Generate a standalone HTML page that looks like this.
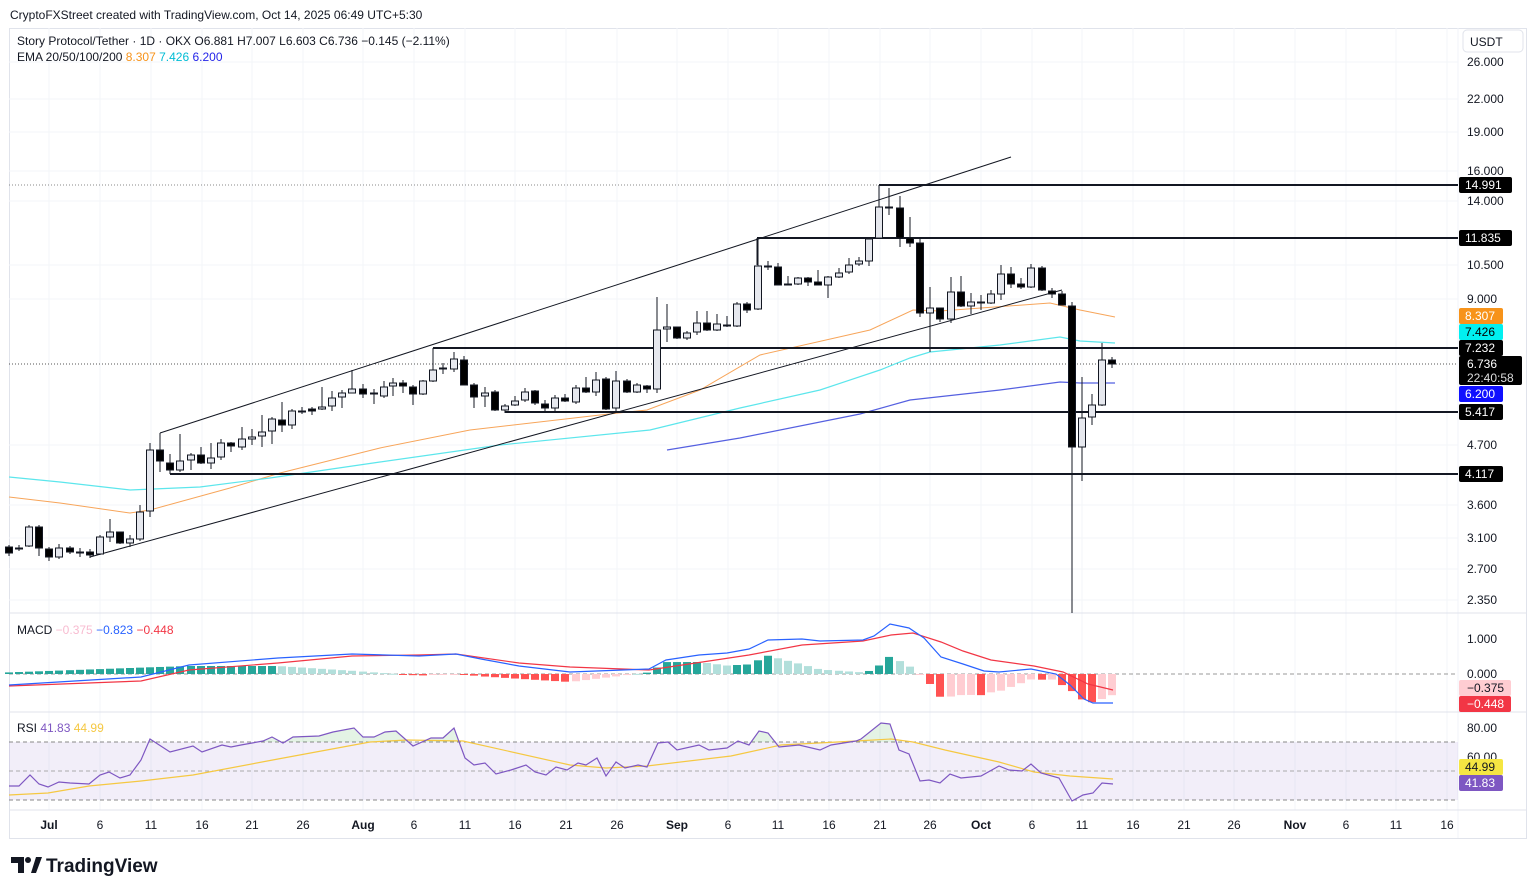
<!DOCTYPE html>
<html><head><meta charset="utf-8">
<style>
html,body{margin:0;padding:0;background:#fff;width:1536px;height:894px;overflow:hidden;font-family:"Liberation Sans",sans-serif}
svg{position:absolute;left:0;top:0}
</style></head><body>
<svg id="s" width="1536" height="894" xmlns="http://www.w3.org/2000/svg" font-family="Liberation Sans, sans-serif"></svg>
<script>
const S=document.getElementById('s');let h='';
function L(x1,y1,x2,y2,c,w,d){h+=`<line x1="${x1}" y1="${y1}" x2="${x2}" y2="${y2}" stroke="${c}" stroke-width="${w||1}" ${d?`stroke-dasharray="${d}"`:''}/>`;}
function T(x,y,t,c,sz,a,fw){h+=`<text x="${x}" y="${y}" fill="${c||'#131722'}" font-size="${sz||12}" ${a?`text-anchor="${a}"`:''} ${fw?`font-weight="${fw}"`:''}>${t}</text>`;}
function P(pts,c,w,f){h+=`<polyline points="${pts.map(p=>p.join(',')).join(' ')}" fill="${f||'none'}" stroke="${c}" stroke-width="${w||1}"/>`;}
// frame
h+=`<rect x="9.5" y="28.5" width="1517" height="810" fill="none" stroke="#e0e3eb"/>`;
L(1458,28,1458,838,'#f0f3fa');
// grid
const py=[62,99,132,171,201,265,299,445,505,538,569,600];
py.forEach(y=>L(9,y,1458,y,'#f3f5f9'));
const tx=[[49,'Jul',1],[100,'6'],[151,'11'],[202,'16'],[252,'21'],[303,'26'],[363,'Aug',1],[414,'6'],[465,'11'],[515,'16'],[566,'21'],[617,'26'],[677,'Sep',1],[728,'6'],[778,'11'],[829,'16'],[880,'21'],[930,'26'],[981,'Oct',1],[1032,'6'],[1082,'11'],[1133,'16'],[1184,'21'],[1234,'26'],[1295,'Nov',1],[1346,'6'],[1396,'11'],[1447,'16']];
tx.forEach(t=>{L(t[0],28,t[0],810,'#f3f5f9');T(t[0],829,t[1],'#131722',12,'middle',t[2]?'bold':null);});
L(9,613,1526,613,'#e0e3eb');L(9,712,1526,712,'#e0e3eb');L(9,810,1526,810,'#e0e3eb');
// header
T(10,19,'CryptoFXStreet created with TradingView.com, Oct 14, 2025 06:49 UTC+5:30','#131722',12);
T(17,45,'Story Protocol/Tether · 1D · OKX <tspan fill="#131722">O</tspan>6.881 H7.007 L6.603 C6.736 −0.145 (−2.11%)','#131722',12);
T(17,61,'EMA 20/50/100/200 <tspan fill="#f7931a">8.307</tspan> <tspan fill="#00bcd4">7.426</tspan> <tspan fill="#2424e8">6.200</tspan>','#131722',12);
// right axis labels
h+=`<rect x="1463" y="30" width="60" height="22" rx="4" fill="#fff" stroke="#e0e3eb"/>`;
T(1470,46,'USDT','#131722',12);
[[62,'26.000'],[99,'22.000'],[132,'19.000'],[171,'16.000'],[201,'14.000'],[265,'10.500'],[299,'9.000'],[445,'4.700'],[505,'3.600'],[538,'3.100'],[569,'2.700'],[600,'2.350']].forEach(a=>T(1467,a[0]+4,a[1],'#131722',12));
// dotted lines
L(9,185,879,185,'#888',1,'1 2');L(9,364,1458,364,'#555',1,'1 2');
// EMA lines
P([[9,497],[60,503],[130,513],[150,510],[230,488],[280,473],[380,448],[470,430],[600,415],[647,410],[700,390],[760,355],[870,330],[913,310],[940,311],[1050,303],[1080,310],[1115,317]],'#f7a55a',1);
P([[9,477],[60,482],[130,490],[200,487],[270,478],[380,462],[500,445],[650,430],[740,408],[820,390],[880,370],[910,358],[930,352],[1000,345],[1060,337],[1080,341],[1115,343]],'#5ce6ec',1.2);
P([[667,450],[740,438],[860,414],[910,400],[1000,390],[1060,382],[1080,383],[1115,383]],'#5560e0',1.2);
// channel
L(160,433,1011,157,'#131722',1);L(160,433,160,455,'#131722',1);
L(90,557,1062,290,'#131722',1);
// horizontal levels
[[879,185,207],[757,238,265],[433,348,370],[505,412,407],[170,474,468]].forEach(a=>{L(a[0],a[1],1458,a[1],'#131722',2);L(a[0],a[1],a[0],a[2],'#131722',1);});
// candles [x,o,c,hi,lo]
const C=[[9,547,553,545,556,1],[19,548,548,545,551],[29,546,527,525,547],[39,527,548,525,556],[49,549,557,547,561],[59,557,548,544,559],[70,548,552,546,554],[80,552,552,548,557],[90,552,555,549,558],[100,554,537,535,555],[110,537,532,519,542],[120,532,543,532,544],[130,543,539,535,547],[140,539,512,505,541],[150,511,450,443,517],[160,450,461,448,472],[170,463,470,454,474],[180,470,461,434,472],[191,460,455,453,470],[201,455,463,447,464],[211,463,458,443,469],[221,457,443,439,460],[231,443,446,442,452],[242,447,439,427,450],[252,439,437,429,445],[262,436,432,415,447],[272,431,419,417,444],[282,420,425,402,432],[292,425,411,409,429],[302,411,411,407,414],[312,409,411,407,415],[322,409,407,387,410],[332,406,398,391,411],[342,397,393,390,408],[352,393,389,370,393],[363,389,394,384,398],[374,393,393,389,404],[384,396,387,381,398],[393,386,383,378,396],[403,383,386,380,393],[413,387,394,385,405],[423,394,381,380,395],[433,381,370,348,382],[443,368,368,363,374],[454,369,359,352,372],[464,360,385,356,385],[474,385,397,383,408],[485,396,393,387,407],[495,392,410,390,411],[505,410,406,404,413],[515,405,401,396,406],[525,400,392,388,402],[535,391,403,390,405],[545,404,408,400,412],[555,408,398,395,412],[565,398,401,394,402],[576,402,388,385,404],[586,388,392,377,393],[596,392,380,372,396],[606,379,409,377,410],[616,408,381,371,413],[627,381,392,379,393],[637,392,385,383,393],[647,386,389,385,393],[657,389,330,297,393],[667,329,327,304,342],[677,327,338,327,339],[687,338,333,331,340],[697,332,323,311,335],[707,323,330,311,331],[717,330,324,314,331],[727,325,325,316,327],[737,326,304,302,327],[747,304,310,302,313],[758,309,266,238,310],[768,266,266,261,270],[778,267,285,263,285],[788,284,284,276,285],[798,284,278,277,285],[808,278,282,277,286],[818,282,285,270,285],[828,285,277,276,298],[839,277,273,268,278],[849,272,265,258,274],[859,264,261,257,266],[869,261,239,238,266],[879,238,207,185,239],[889,207,207,188,215],[900,208,238,196,247],[910,238,243,217,247],[920,243,313,237,317],[930,313,308,287,352],[940,308,319,308,322],[951,319,292,277,323],[961,292,306,276,307],[971,306,302,293,314],[981,302,303,295,310],[991,303,294,290,304],[1001,294,274,265,300],[1011,274,284,267,288],[1021,284,287,278,289],[1031,287,268,264,288],[1042,268,290,266,291],[1052,291,294,288,298],[1062,294,305,291,305],[1072,306,447,302,613],[1082,447,418,377,481],[1092,417,405,394,425],[1102,405,360,343,406],[1112,360,364,357,368]];
C.forEach(c=>{const[x,o,cl,hi,lo]=c;const up=cl<o;const t=Math.min(o,cl),b=Math.max(o,cl);
L(x,hi,x,lo,'#131722',1);
const hh=Math.max(b-t,1);
h+=`<rect x="${x-3.5}" y="${t}" width="7" height="${hh}" fill="${up?'#e6e8ee':'#000'}" stroke="#131722" stroke-width="1"/>`;});
// price labels boxes
function B(y,t,bg,fg,w){h+=`<rect x="1459" y="${y-8}" width="${w||44}" height="16" rx="2" fill="${bg}"/>`;T(1465,y+4,t,fg,12);}
B(185,'14.991','#000','#fff',53);B(238,'11.835','#000','#fff',53);B(316,'8.307','#f7931a','#fff');B(332,'7.426','#00f0f0','#000');B(348,'7.232','#000','#fff');
h+=`<rect x="1459" y="356" width="63" height="29" rx="2" fill="#000"/>`;T(1467,368,'6.736','#fff',12);T(1467,382,'22:40:58','#ddd',12);
B(394,'6.200','#1010ff','#fff');B(412,'5.417','#000','#fff');B(474,'4.117','#000','#fff');
// MACD
L(9,674,1458,674,'#999',1,'4 3');
const blue=[[9,685],[141,677],[189,665],[278,658],[352,654],[419,656],[456,654],[481,659],[519,666],[570,672],[649,669],[666,660],[699,655],[727,653],[749,649],[768,640],[802,639],[820,641],[863,640],[874,636],[890,624],[909,628],[924,638],[941,657],[963,664],[984,671],[999,672],[1031,669],[1056,674],[1070,685],[1084,699],[1093,703],[1113,703]];
const red=[[9,686],[141,681],[189,670],[278,663],[352,656],[419,655],[456,654],[519,663],[570,667],[649,670],[749,655],[802,645],[863,641],[891,635],[913,633],[941,642],[963,651],[991,660],[1034,666],[1063,672],[1088,684],[1113,690]];
function interp(a,x){for(let i=0;i<a.length-1;i++){if(x>=a[i][0]&&x<=a[i+1][0]){const f=(x-a[i][0])/(a[i+1][0]-a[i][0]);return a[i][1]+f*(a[i+1][1]-a[i][1]);}}return a[a.length-1][1];}
let prev=null;
C.forEach(c=>{const x=c[0];const v=-(interp(blue,x)-interp(red,x))*1.6;const grow=prev===null||Math.abs(v)>=Math.abs(prev);
let col=v>=0?(grow?'#26a69a':'#b2dfdb'):(grow?'#ff5252':'#ffcdd2');prev=v;
const y=v>=0?674-v:674;h+=`<rect x="${x-4}" y="${y}" width="8" height="${Math.max(Math.abs(v),1)}" fill="${col}"/>`;});
P(red,'#f23645',1.2);P(blue,'#2962ff',1.2);
T(17,634,'MACD <tspan fill="#f8bbd0">−0.375</tspan> <tspan fill="#2962ff">−0.823</tspan> <tspan fill="#f23645">−0.448</tspan>','#131722',12);
T(1467,643,'1.000','#131722',12);T(1467,678,'0.000','#131722',12);
h+=`<rect x="1459" y="680" width="52" height="16" rx="2" fill="#ffcdd2"/>`;T(1467,692,'−0.375','#131722',12);
h+=`<rect x="1459" y="696" width="52" height="16" rx="2" fill="#f23645"/>`;T(1467,708,'−0.448','#fff',12);
// RSI
h+=`<rect x="9" y="742" width="1449" height="58" fill="#7e57c2" fill-opacity="0.1"/>`;
L(9,742,1458,742,'#888',1,'4 3');L(9,771,1458,771,'#aaa',1,'4 3');L(9,800,1458,800,'#888',1,'4 3');
const rsi=[[9,786],[19,786],[30,775],[39,784],[48,787],[59,782],[70,783],[89,784],[100,775],[109,772],[120,778],[130,775],[141,760],[150,739],[170,752],[193,746],[202,752],[222,745],[231,747],[241,745],[263,741],[272,737],[283,743],[293,737],[319,736],[333,732],[354,728],[363,737],[374,737],[385,732],[396,731],[413,746],[431,738],[443,738],[454,728],[465,758],[474,765],[485,763],[496,774],[511,770],[526,765],[535,772],[546,775],[556,767],[567,770],[578,763],[586,765],[597,758],[606,776],[616,762],[625,768],[638,765],[647,767],[658,743],[668,742],[677,750],[699,745],[709,750],[727,748],[738,741],[749,745],[759,731],[768,733],[779,747],[799,745],[820,750],[831,745],[856,741],[861,739],[881,723],[890,724],[899,750],[909,754],[920,781],[929,780],[940,783],[950,774],[961,778],[981,776],[999,766],[1009,770],[1022,771],[1031,764],[1041,773],[1059,778],[1072,801],[1083,795],[1093,793],[1102,783],[1113,784]];
h+=`<clipPath id="ob"><rect x="0" y="700" width="1536" height="42"/></clipPath>`;
h+=`<polygon clip-path="url(#ob)" points="${rsi.map(p=>p.join(',')).join(' ')} 1113,742 9,742" fill="#4caf50" fill-opacity="0.15"/>`;
P([[9,795],[48,793],[89,786],[141,781],[193,775],[278,759],[370,742],[407,740],[463,741],[570,765],[606,768],[647,766],[731,756],[781,745],[856,741],[891,739],[913,742],[945,750],[999,762],[1034,772],[1070,776],[1113,779]],'#f5c842',1.2);
P(rsi,'#7e57c2',1.2);
T(17,732,'RSI <tspan fill="#7e57c2">41.83</tspan> <tspan fill="#f5c842">44.99</tspan>','#131722',12);
T(1467,732,'80.00','#131722',12);T(1467,761,'60.00','#131722',12);
h+=`<rect x="1459" y="759" width="44" height="16" rx="2" fill="#f5e642"/>`;T(1465,771,'44.99','#131722',12);
h+=`<rect x="1459" y="775" width="44" height="16" rx="2" fill="#7e57c2"/>`;T(1465,787,'41.83','#fff',12);
// logo
h+=`<path d="M11 857h13v16h-6v-10h-7z" fill="#131722"/><circle cx="28" cy="860" r="3" fill="#131722"/><path d="M31 873l5-16h6l-6 16z" fill="#131722"/>`;
T(46,872,'TradingView','#131722',19,null,'bold');
S.innerHTML=h;
</script>
</body></html>
